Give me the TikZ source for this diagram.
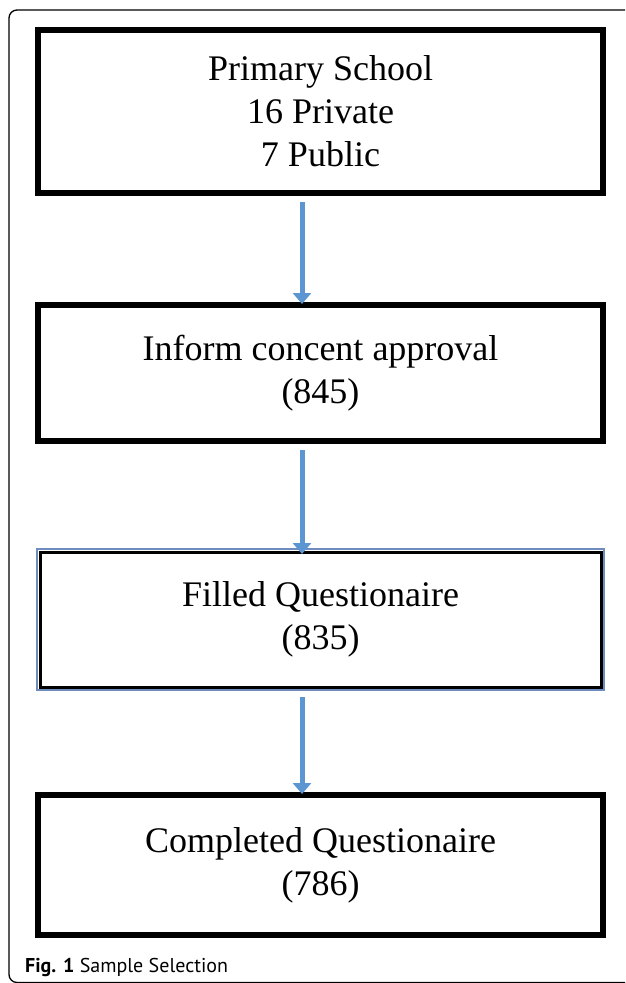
\documentclass[tikz,border=0pt]{standalone}
\usepackage{fontspec}
\setmainfont{Liberation Serif}
\newfontfamily\capfont{PT Sans}
\usetikzlibrary{arrows.meta}
\definecolor{arrblue}{RGB}{91,150,210}
\definecolor{edgeblue}{RGB}{110,140,190}
\tikzset{
  stagebox/.style={draw=black, line width=6pt, outer sep=0pt, inner sep=0pt,
    minimum width=565pt, align=center, font=\fontsize{36}{43}\selectfont},
  flowarrow/.style={draw=arrblue, line width=5pt,
    -{Triangle[width=18pt,length=11pt]}, shorten <=9pt, shorten >=1pt},
  framestyle/.style={draw=black, line width=1.3pt, rounded corners=8pt}
}
\begin{document}
\begin{tikzpicture}[x=1pt,y=-1pt]
\useasboundingbox (0,0) rectangle (625,983);
\clip (0,0) rectangle (625,983);
\fill[white] (0,0) rectangle (625,983);
\draw[framestyle] (9,10) rectangle (660,982.5);

\node[stagebox, minimum height=163pt] (b1) at (320.5,111.5)
  {Primary School\\16 Private\\7 Public};
\node[stagebox, minimum height=136pt] (b2) at (320.5,373)
  {Inform concent approval\\(845)};
\node[stagebox, line width=3pt, minimum width=561pt, minimum height=135pt] (b3) at (320.5,619.5)
  {Filled Questionaire\\(835)};
\draw[draw=edgeblue, line width=2.5pt] ([shift={(-3,-3)}]b3.north west) rectangle ([shift={(3,3)}]b3.south east);
\node[stagebox, minimum height=140pt] (b4) at (320.5,865)
  {Completed Questionaire\\(786)};

\draw[flowarrow] ([xshift=-18.5pt]b1.south) -- ([xshift=-18.5pt]b2.north);
\draw[flowarrow] ([xshift=-18.5pt]b2.south) -- ([xshift=-18.5pt,yshift=-3pt]b3.north);
\draw[flowarrow] ([xshift=-18.5pt,yshift=-1pt]b3.south) -- ([xshift=-18.5pt]b4.north);

\node[anchor=base west, inner sep=0pt, font=\capfont\fontsize{20}{24}\selectfont] (cap) at (25,972)
  {\textbf{Fig. 1} Sample Selection};
\end{tikzpicture}
\end{document}
